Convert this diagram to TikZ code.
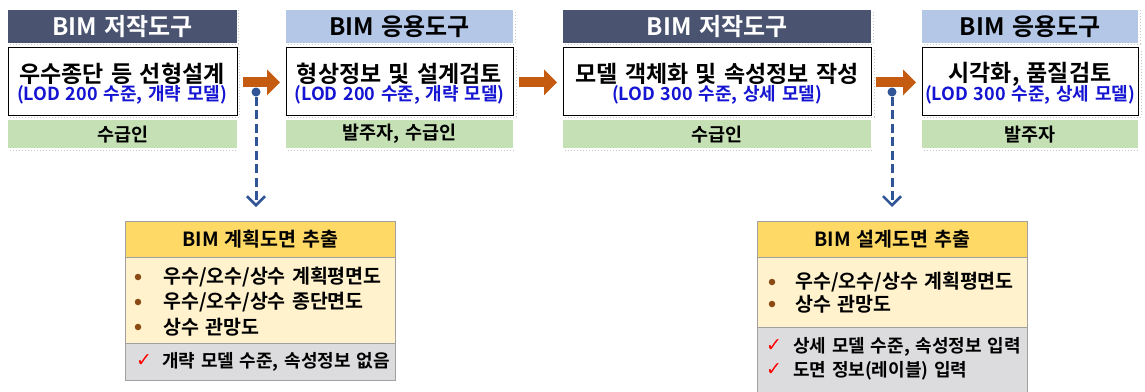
\documentclass[tikz,border=0pt]{standalone}
\usepackage{fontspec}
\setmainfont{Noto Sans CJK KR Bold}[WordSpace=1.4]
\newfontfamily\symfont{DejaVu Sans}
\usetikzlibrary{arrows.meta}
\definecolor{darkhdr}{HTML}{4A5470}
\definecolor{lighthdr}{HTML}{B4C7E7}
\definecolor{greenbar}{HTML}{C5E0B4}
\definecolor{bluetxt}{HTML}{1414D2}
\definecolor{orangearr}{HTML}{C55A11}
\definecolor{navy}{HTML}{2F5597}
\definecolor{ylhdr}{HTML}{FFD966}
\definecolor{ylbody}{HTML}{FFF2CC}
\definecolor{graybody}{HTML}{DCDCDE}
\definecolor{bordergray}{HTML}{A0A0A0}
\definecolor{bulletc}{HTML}{8B4A14}
\begin{document}
\begin{tikzpicture}[x=1pt,y=-1pt,
  box/.style={draw=none,inner sep=0pt,anchor=north west},
  hdrfont/.style={font=\fontsize{24}{26}\selectfont},
  darkbox/.style={box,fill=darkhdr},
  lightbox/.style={box,fill=lighthdr},
  mainbox/.style={box,fill=white,draw=black,line width=0.8pt},
  greenbox/.style={box,fill=greenbar},
  greenfont/.style={font=\fontsize{18.5}{20}\selectfont},
  maintxt/.style={inner sep=0pt,font=\fontsize{23}{25}\selectfont},
  lodtxt/.style={inner sep=0pt,text=bluetxt,font=\fontsize{18}{20}\selectfont},
  shadow/.style={draw=gray!45,line width=1pt,dotted},
  flow/.style={draw=orangearr,line width=10pt,-{Triangle[length=13pt,width=25pt]}},
  dropdot/.style={circle,fill=navy,inner sep=0pt,minimum size=9pt},
  droparrow/.style={draw=navy,line width=3pt,dash pattern=on 9pt off 4.5pt,-{Straight Barb[length=9pt,width=18pt,line width=2.5pt]}},
  secbox/.style={box,draw=bordergray,line width=1pt},
  sechdr/.style={inner sep=0pt,font=\fontsize{19.5}{21}\selectfont},
  item/.style={inner sep=0pt,anchor=west,font=\fontsize{19.5}{21}\selectfont},
  grayitem/.style={inner sep=0pt,anchor=west,font=\fontsize{18}{20}\selectfont},
  bul/.style={circle,fill=bulletc,inner sep=0pt,minimum size=6.5pt},
  chk/.style={inner sep=0pt,text=red,font=\symfont\fontsize{19}{21}\selectfont}
]
\useasboundingbox (0,0) rectangle (1145,391);

% ---- column 1
\draw[shadow] (10,44) -- (238,44) -- (238,10);
\node[darkbox,minimum width=229pt,minimum height=33pt] (h1) at (8,10) {};
\node at (h1.center) [text=white,hdrfont] {BIM 저작도구};
\draw[shadow] (10,117) -- (239,117) -- (239,49);
\node[mainbox,minimum width=229pt,minimum height=68pt] (m1) at (8,47) {};
\node[maintxt] (t1) at (122,74) {우수종단 등 선형설계};
\node[lodtxt] (l1) at (122,95) {(LOD 200 수준, 개략 모델)};
\draw[shadow] (10,150) -- (238,150);
\node[greenbox,minimum width=229pt,minimum height=28pt] (g1) at (8,120) {};
\node at (g1.center) [greenfont] {수급인};

% ---- column 2
\draw[shadow] (288,44) -- (515,44) -- (515,10);
\node[lightbox,minimum width=227pt,minimum height=33pt] (h2) at (286,10) {};
\node at (h2.center) [hdrfont] {BIM 응용도구};
\draw[shadow] (288,117) -- (516,117) -- (516,49);
\node[mainbox,minimum width=227pt,minimum height=68pt] (m2) at (286,47) {};
\node[maintxt] (t2) at (399.5,74) {형상정보 및 설계검토};
\node[lodtxt] (l2) at (399.5,95) {(LOD 200 수준, 개략 모델)};
\draw[shadow] (288,150) -- (515,150);
\node[greenbox,minimum width=227pt,minimum height=28pt] (g2) at (286,120) {};
\node at (g2.center) [greenfont] {발주자, 수급인};

% ---- column 3
\draw[shadow] (565,44) -- (873,44) -- (873,10);
\node[darkbox,minimum width=308pt,minimum height=33pt] (h3) at (563,10) {};
\node at (h3.center) [text=white,hdrfont] {BIM 저작도구};
\draw[shadow] (565,117) -- (874,117) -- (874,49);
\node[mainbox,minimum width=308pt,minimum height=68pt] (m3) at (563,47) {};
\node[maintxt] (t3) at (717,74) {모델 객체화 및 속성정보 작성};
\node[lodtxt] (l3) at (717,95) {(LOD 300 수준, 상세 모델)};
\draw[shadow] (565,150) -- (873,150);
\node[greenbox,minimum width=308pt,minimum height=28pt] (g3) at (563,120) {};
\node at (g3.center) [greenfont] {수급인};

% ---- column 4
\draw[shadow] (924,44) -- (1140,44) -- (1140,10);
\node[lightbox,minimum width=216pt,minimum height=33pt] (h4) at (922,10) {};
\node at (h4.center) [hdrfont] {BIM 응용도구};
\draw[shadow] (924,117) -- (1141,117) -- (1141,49);
\node[mainbox,minimum width=216pt,minimum height=68pt] (m4) at (922,47) {};
\node[maintxt] (t4) at (1030,74) {시각화, 품질검토};
\node[lodtxt] (l4) at (1030,95) {(LOD 300 수준, 상세 모델)};
\draw[shadow] (924,150) -- (1140,150);
\node[greenbox,minimum width=216pt,minimum height=28pt] (g4) at (922,120) {};
\node at (g4.center) [greenfont] {발주자};

% ---- flow arrows
\draw[flow] ([xshift=5pt,yshift=-1pt]m1.east) -- ([xshift=-6pt,yshift=-1pt]m2.west);
\draw[flow] ([xshift=5pt,yshift=-1pt]m2.east) -- ([xshift=-6pt,yshift=-1pt]m3.west);
\draw[flow] ([xshift=4pt,yshift=-1pt]m3.east) -- ([xshift=-6pt,yshift=-1pt]m4.west);

% ---- lower box A
\node[secbox,fill=ylhdr,minimum width=270pt,minimum height=36pt] (ah) at (125,221) {};
\node[sechdr] at (ah.center) {BIM 계획도면 추출};
\node[secbox,fill=ylbody,minimum width=270pt,minimum height=86pt] (ab) at (125,257) {};
\node[secbox,fill=graybody,minimum width=270pt,minimum height=37pt] (ag) at (125,343) {};
\node[bul] (ab1) at (138,277) {};
\node[item] (at1) at (163,277) {우수/오수/상수 계획평면도};
\node[bul] (ab2) at (138,302) {};
\node[item] (at2) at (163,302) {우수/오수/상수 종단면도};
\node[bul] (ab3) at (138,327) {};
\node[item] (at3) at (163,327) {상수 관망도};
\node[chk] (ac1) at (144,361) {✓};
\node[grayitem] (ag1) at (162,362) {개략 모델 수준, 속성정보 없음};

% ---- lower box B
\node[secbox,fill=ylhdr,minimum width=270pt,minimum height=36pt] (bh) at (757,221) {};
\node[sechdr] at (bh.center) {BIM 설계도면 추출};
\node[secbox,fill=ylbody,minimum width=270pt,minimum height=70pt] (bb) at (757,257) {};
\node[secbox,fill=graybody,minimum width=270pt,minimum height=70pt] (bg) at (757,327) {};
\node[bul] (bb1) at (772,282) {};
\node[item] (bt1) at (795,282) {우수/오수/상수 계획평면도};
\node[bul] (bb2) at (772,304) {};
\node[item] (bt2) at (795,304) {상수 관망도};
\node[chk] (bc1) at (774,346) {✓};
\node[grayitem] (bg1) at (793,347) {상세 모델 수준, 속성정보 입력};
\node[chk] (bc2) at (774,370) {✓};
\node[grayitem] (bg2) at (793,371) {도면 정보(레이블) 입력};

% ---- drop connectors
\node[dropdot] (d1) at (256,92) {};
\node[dropdot] (d2) at (892,92) {};
\draw[droparrow] (d1) -- ([yshift=14pt]ah.north -| d1);
\draw[droparrow] (d2) -- ([yshift=14pt]bh.north -| d2);
\end{tikzpicture}
\end{document}
